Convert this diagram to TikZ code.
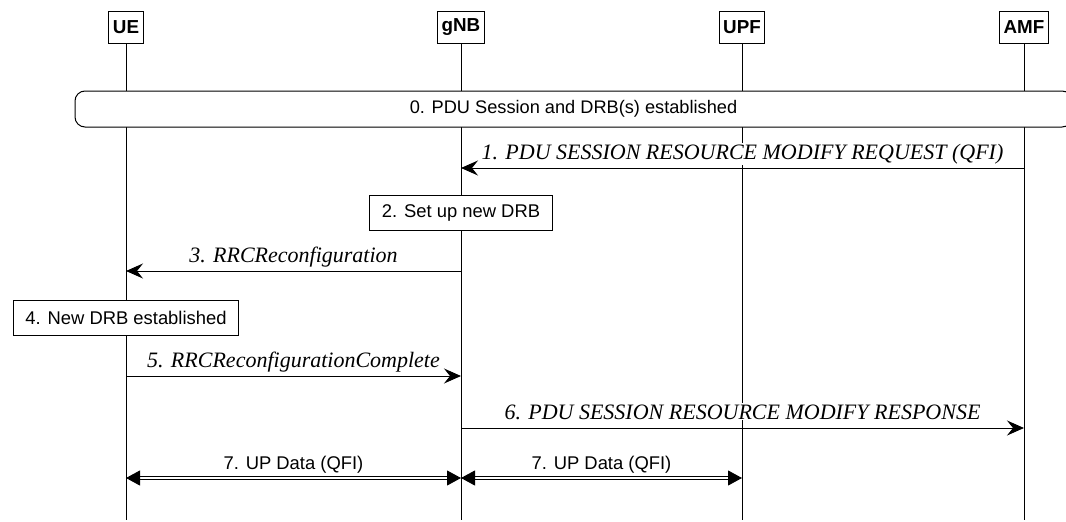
\documentclass[tikz,border=0pt]{standalone}
\usepackage{fontspec}
\setmainfont{Liberation Serif}
\setsansfont{Liberation Sans}
\usetikzlibrary{arrows.meta}
\tikzset{
  entity/.style={draw, line width=1pt, fill=white, font=\sffamily\bfseries\fontsize{18.8}{22}\selectfont, inner xsep=4pt, minimum height=32pt},
  action/.style={draw, line width=1pt, fill=white, font=\sffamily\fontsize{18.4}{22}\selectfont, inner xsep=12pt, minimum height=35pt},
  phase/.style={draw, line width=1pt, fill=white, rounded corners=10pt, font=\sffamily\fontsize{18.2}{22}\selectfont, minimum width=997pt, minimum height=36pt},
  lifeline/.style={line width=1pt},
  msg/.style={line width=1pt, -{Stealth[length=17pt,width=15pt,inset=6pt]}},
  updata/.style={double, line width=0.9pt, double distance=2pt, {Triangle[length=14pt,width=15pt]}-{Triangle[length=14pt,width=15pt]}},
  msglabel/.style={font=\itshape\fontsize{22}{25}\selectfont, anchor=base, inner sep=1pt, fill=white, yshift=9pt},
  datalabel/.style={font=\sffamily\fontsize{18.4}{22}\selectfont, anchor=base, inner sep=1pt, fill=white, yshift=9pt}
}
\begin{document}
\begin{tikzpicture}[x=1pt,y=-1pt]
\useasboundingbox (0,0) rectangle (1066,522);
\node[entity] (ue) at (126,27.5) {UE};
\node[entity] (gnb) at (461,27.5) {gNB};
\node[entity] (upf) at (742,27.5) {UPF};
\node[entity] (amf) at (1024,27.5) {AMF};
\coordinate (bottom) at (0,520);
\foreach \n in {ue,gnb,upf,amf}
  \draw[lifeline] (\n.south) -- (\n.south |- bottom);
\node[phase] (est) at (573.5,109) {0. PDU Session and DRB(s) established};
\coordinate (amf1) at (1024,168);
\coordinate (gnb1) at (461,168);
\draw[msg] (amf1) -- node[msglabel] {1. PDU SESSION RESOURCE MODIFY REQUEST (QFI)} (gnb1);
\node[action] (newdrb) at (461,212.5) {2. Set up new DRB};
\coordinate (gnb3) at (461,271);
\coordinate (ue3) at (126,271);
\draw[msg] (gnb3) -- node[msglabel] {3. RRCReconfiguration} (ue3);
\node[action] (drbok) at (126,317.5) {4. New DRB established};
\coordinate (ue5) at (126,376);
\coordinate (gnb5) at (461,376);
\draw[msg] (ue5) -- node[msglabel] {5. RRCReconfigurationComplete} (gnb5);
\coordinate (gnb6) at (461,428);
\coordinate (amf6) at (1024,428);
\draw[msg] (gnb6) -- node[msglabel] {6. PDU SESSION RESOURCE MODIFY RESPONSE} (amf6);
\coordinate (ue7) at (126,478);
\coordinate (gnb7) at (461,478);
\coordinate (upf7) at (742,478);
\draw[updata] (ue7) -- node[datalabel] {7. UP Data (QFI)} (gnb7);
\draw[updata] (gnb7) -- node[datalabel] {7. UP Data (QFI)} (upf7);
\end{tikzpicture}
\end{document}
